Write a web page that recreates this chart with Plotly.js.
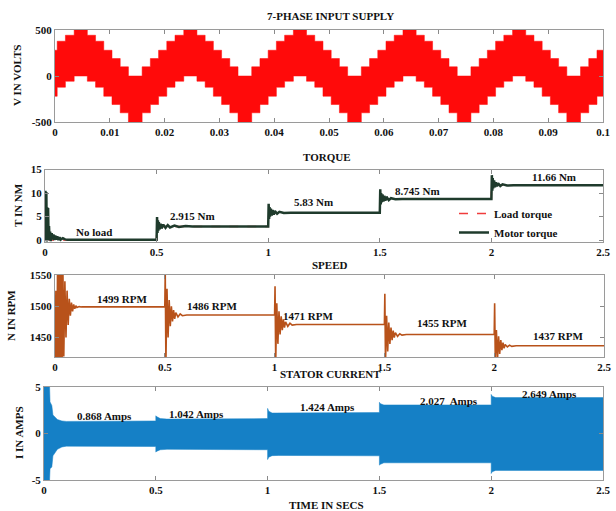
<!DOCTYPE html>
<html>
<head>
<meta charset="utf-8">
<script src="https://cdn.plot.ly/plotly-3.0.1.min.js"></script>
<style>html,body{margin:0;padding:0;background:#fff;}#chart{width:616px;height:511px;}</style>
</head>
<body>
<div id="chart"></div>
<script>
// ---------- DATA ----------
// 7-phase input supply: one cycle of step starts (s) and upper / lower envelope levels (V)
const supplyCycleStart = [0, 0.0004, 0.0019, 0.0035, 0.0059, 0.0074, 0.0089, 0.0104, 0.0119, 0.0134, 0.0159, 0.0174, 0.0189];
const supplyUpper = [280, 378, 443, 500, 443, 378, 280, 190, 100, 0, 100, 190, 280];
const supplyLower = [-220, -122, -57, 0, -57, -122, -220, -310, -400, -500, -400, -310, -220];
const supplyPeriod = 0.02;
const supplyCycles = 5;
const supplyTicks = [0, 0.01, 0.02, 0.03, 0.04, 0.05, 0.06, 0.07, 0.08, 0.09, 0.1];
const supplyTickText = ['0', '0.01', '0.02', '0.03', '0.04', '0.05', '0.06', '0.07', '0.08', '0.09', '0.1'];

// Torque
const loadTorqueT = [0, 0.5, 1, 1.5, 2, 2.5];
const loadTorqueV = [0, 2.915, 5.83, 8.745, 11.66, 11.66];
const motorTorqueT = [0, 0.002, 0.004, 0.006, 0.008, 0.010, 0.012, 0.014, 0.016, 0.018, 0.02, 0.023, 0.026, 0.03, 0.034, 0.038, 0.042, 0.046, 0.05, 0.055, 0.06, 0.065, 0.07, 0.08, 0.09, 0.1,
  0.5, 0.502, 0.504, 0.506, 0.508, 0.51, 0.514, 0.518, 0.522, 0.53, 0.54, 0.55, 0.56, 0.58, 0.6, 0.63, 0.66,
  1.0, 1.002, 1.004, 1.006, 1.008, 1.012, 1.016, 1.02, 1.025, 1.03, 1.04, 1.05, 1.07, 1.1,
  1.5, 1.502, 1.504, 1.506, 1.508, 1.512, 1.516, 1.52, 1.525, 1.53, 1.54, 1.55, 1.57, 1.6,
  2.0, 2.002, 2.004, 2.006, 2.008, 2.012, 2.016, 2.02, 2.025, 2.03, 2.04, 2.05, 2.07, 2.1, 2.5];
const motorTorqueV = [0, 10.5, 0.5, 10.2, -0.3, 7.0, 0.2, 6.8, 0.0, 3.0, 0.5, 1.8, -0.2, 1.5, 0.1, 1.2, 0.0, 1.0, 0.1, 0.8, 0.0, 0.6, 0.1, 0.4, 0.15, 0.08,
  0.08, 4.9, 1.5, 4.2, 2.0, 3.8, 2.3, 3.5, 2.5, 3.3, 2.6, 3.2, 2.7, 3.1, 2.8, 3.0, 2.915,
  2.915, 7.7, 4.5, 7.0, 5.0, 6.7, 5.2, 6.4, 5.4, 6.2, 5.6, 6.0, 5.75, 5.83,
  5.83, 10.8, 7.6, 10.0, 8.0, 9.7, 8.2, 9.4, 8.4, 9.2, 8.5, 8.9, 8.7, 8.745,
  8.745, 13.8, 10.5, 13.2, 11.0, 12.7, 11.2, 12.3, 11.4, 12.1, 11.5, 11.85, 11.6, 11.66, 11.66];
const torqueLabels = ['No load', '2.915 Nm', '5.83 Nm', '8.745 Nm', '11.66 Nm'];
const torqueLabelT = [0.22, 0.66, 1.205, 1.67, 2.28];
const torqueLabelV = [1.8, 5.2, 8.1, 10.5, 13.4];

// Speed
const speedT = [0, 0.004, 0.008, 0.012, 0.016, 0.02, 0.024, 0.028, 0.032, 0.036, 0.04, 0.045, 0.05, 0.055, 0.06, 0.065, 0.07, 0.075, 0.08, 0.085, 0.09, 0.095, 0.1, 0.11, 0.12,
  0.5, 0.502, 0.505, 0.51, 0.515, 0.52, 0.525, 0.53, 0.535, 0.54, 0.545, 0.55, 0.56, 0.57, 0.58, 0.6,
  1.0, 1.002, 1.005, 1.01, 1.015, 1.02, 1.025, 1.03, 1.035, 1.04, 1.045, 1.05, 1.06, 1.07, 1.08, 1.1,
  1.5, 1.502, 1.505, 1.51, 1.515, 1.52, 1.525, 1.53, 1.535, 1.54, 1.545, 1.55, 1.56, 1.57, 1.58, 1.6,
  2.0, 2.002, 2.005, 2.01, 2.015, 2.02, 2.025, 2.03, 2.035, 2.04, 2.045, 2.05, 2.06, 2.07, 2.08, 2.1, 2.5];
const speedV = [1400, 1525, 1400, 1580, 1400, 1580, 1400, 1580, 1400, 1560, 1420, 1540, 1450, 1525, 1470, 1512, 1485, 1506, 1492, 1503, 1496, 1501, 1498, 1499.5, 1499,
  1499, 1555, 1410, 1528, 1450, 1510, 1468, 1500, 1476, 1494, 1480, 1490, 1483, 1488, 1485, 1486,
  1486, 1532, 1410, 1505, 1440, 1492, 1455, 1484, 1462, 1479, 1466, 1475, 1468, 1473, 1470, 1471,
  1471, 1520, 1410, 1485, 1428, 1474, 1440, 1466, 1446, 1461, 1450, 1458, 1452, 1456, 1454, 1455,
  1455, 1505, 1412, 1462, 1415, 1452, 1424, 1446, 1430, 1442, 1433, 1439, 1435, 1438, 1436, 1437, 1437];
const speedLabels = ['1499 RPM', '1486 RPM', '1471 RPM', '1455 RPM', '1437 RPM'];
const speedLabelT = [0.305, 0.714, 1.152, 1.762, 2.29];
const speedLabelV = [1512, 1500, 1484, 1473, 1452];

// Stator current envelope
const currentT = [0, 0.025, 0.027, 0.035, 0.04, 0.05, 0.06, 0.08, 0.1, 0.5, 0.5, 0.505, 0.52, 0.55, 1.0, 1.0, 1.005, 1.02, 1.05, 1.5, 1.5, 1.505, 1.52, 2.0, 2.0, 2.005, 2.02, 2.5];
const currentUpper = [5, 5, 3.4, 3.0, 2.0, 1.7, 1.5, 1.35, 1.3, 1.35, 1.9, 1.8, 1.6, 1.55, 1.6, 2.7, 2.4, 2.2, 2.2, 2.25, 3.35, 3.2, 3.07, 3.07, 4.2, 4.0, 3.86, 3.86];
const currentLower = [-5, -5, -3.8, -3.6, -2.4, -2.0, -1.7, -1.45, -1.36, -1.4, -2.0, -1.9, -1.75, -1.7, -1.75, -2.8, -2.55, -2.38, -2.36, -2.4, -3.4, -3.3, -3.15, -3.15, -4.3, -4.1, -3.97, -3.97];
const currentLabels = ['0.868 Amps', '1.042 Amps', '1.424 Amps', '2.027  Amps', '2.649 Amps'];
const currentLabelT = [0.27, 0.68, 1.27, 1.81, 2.26];
const currentLabelV = [1.85, 2.1, 2.8, 3.5, 4.2];

const timeTicks = [0, 0.5, 1, 1.5, 2, 2.5];
const timeTickText = ['0', '0.5', '1', '1.5', '2', '2.5'];

// ---------- BUILD ----------
const W = 616, H = 511;
const FONT = 'Liberation Serif, Times New Roman, serif';
const px = (a, b) => [a / W, b / W];
const py = (top, bottom) => [(H - bottom) / H, (H - top) / H];

const supX = [], supU = [], supL = [];
for (let c = 0; c < supplyCycles; c++) {
  for (let i = 0; i < supplyCycleStart.length; i++) {
    supX.push(c * supplyPeriod + supplyCycleStart[i]);
    supU.push(supplyUpper[i]);
    supL.push(supplyLower[i]);
  }
}
supX.push(supplyPeriod * supplyCycles);
supU.push(supplyUpper[supplyUpper.length - 1]);
supL.push(supplyLower[supplyLower.length - 1]);

const RED = '#ff0a0a', GREEN = '#1f3b2c', ORANGE = '#b8521a', BLUE = '#1580c6';

const traces = [
  {x: supX, y: supL, xaxis: 'x', yaxis: 'y', mode: 'lines', line: {shape: 'hv', color: RED, width: 0.5}, showlegend: false, hoverinfo: 'skip'},
  {x: supX, y: supU, xaxis: 'x', yaxis: 'y', mode: 'lines', fill: 'tonexty', fillcolor: RED, line: {shape: 'hv', color: RED, width: 0.5}, showlegend: false, hoverinfo: 'skip'},
  {x: loadTorqueT, y: loadTorqueV, xaxis: 'x2', yaxis: 'y2', mode: 'lines', name: 'Load torque', line: {shape: 'hv', color: '#f03c3c', width: 1.5, dash: 'dash'}},
  {x: motorTorqueT, y: motorTorqueV, xaxis: 'x2', yaxis: 'y2', mode: 'lines', name: 'Motor torque', line: {color: GREEN, width: 2.5}},
  {x: speedT, y: speedV, xaxis: 'x3', yaxis: 'y3', mode: 'lines', line: {color: ORANGE, width: 1.6}, showlegend: false},
  {x: currentT, y: currentLower, xaxis: 'x4', yaxis: 'y4', mode: 'lines', line: {color: BLUE, width: 0.5}, showlegend: false},
  {x: currentT, y: currentUpper, xaxis: 'x4', yaxis: 'y4', mode: 'lines', fill: 'tonexty', fillcolor: BLUE, line: {color: BLUE, width: 0.5}, showlegend: false}
];

const tickFont = {family: FONT, size: 11, color: '#111', weight: 'bold'};
function axis(extra) {
  return Object.assign({
    showgrid: false, zeroline: false, showline: true, mirror: 'ticks',
    linecolor: '#9a9a9a', linewidth: 1, ticks: 'inside', ticklen: 4, tickcolor: '#8a8a8a',
    tickfont: tickFont, tickmode: 'array', fixedrange: true
  }, extra);
}

const layout = {
  width: W, height: H,
  margin: {l: 0, r: 0, t: 0, b: 0},
  paper_bgcolor: '#fff', plot_bgcolor: '#fff',
  font: {family: FONT, size: 11, color: '#111'},
  xaxis: axis({domain: px(55, 603), anchor: 'y', range: [0, 0.1], tickvals: supplyTicks, ticktext: supplyTickText}),
  yaxis: axis({domain: py(30, 122), anchor: 'x', range: [-500, 500], tickvals: [-500, 0, 500], ticktext: ['-500', '0', '500']}),
  xaxis2: axis({domain: px(45, 603), anchor: 'y2', range: [0, 2.5], tickvals: timeTicks, ticktext: timeTickText}),
  yaxis2: axis({domain: py(169.5, 242), anchor: 'x2', range: [-0.4, 15], tickvals: [0, 5, 10, 15], ticktext: ['0', '5', '10', '15']}),
  xaxis3: axis({domain: px(55, 604), anchor: 'y3', range: [0, 2.5], tickvals: timeTicks, ticktext: timeTickText}),
  yaxis3: axis({domain: py(275, 357), anchor: 'x3', range: [1419, 1550], tickvals: [1450, 1500, 1550], ticktext: ['1450', '1500', '1550']}),
  xaxis4: axis({domain: px(44, 603), anchor: 'y4', range: [0, 2.5], tickvals: timeTicks, ticktext: timeTickText}),
  yaxis4: axis({domain: py(387, 480), anchor: 'x4', range: [-5, 5], tickvals: [-5, 0, 5], ticktext: ['-5', '0', '5']}),
  showlegend: true,
  legend: {
    x: 454 / W, y: (H - 199) / H, xanchor: 'left', yanchor: 'top',
    bgcolor: 'rgba(0,0,0,0)', borderwidth: 0, traceorder: 'normal',
    font: {family: FONT, size: 11, color: '#111', weight: 'bold'},
    tracegroupgap: 0, itemwidth: 30
  },
  annotations: []
};

function paperText(text, xPix, yPix, opts) {
  return Object.assign({
    text: text, xref: 'paper', yref: 'paper', x: xPix / W, y: (H - yPix) / H,
    xanchor: 'center', yanchor: 'middle', showarrow: false,
    font: {family: FONT, size: 11, color: '#111', weight: 'bold'}
  }, opts || {});
}
const ann = layout.annotations;
ann.push(paperText('7-PHASE INPUT SUPPLY', 330, 16));
ann.push(paperText('TORQUE', 326, 157));
ann.push(paperText('SPEED', 330, 265));
ann.push(paperText('STATOR CURRENT', 330, 374));
ann.push(paperText('TIME IN SECS', 326, 505));
ann.push(paperText('V IN VOLTS', 17, 76, {textangle: -90}));
ann.push(paperText('T IN NM', 18, 205, {textangle: -90}));
ann.push(paperText('N IN RPM', 11, 316, {textangle: -90}));
ann.push(paperText('I IN AMPS', 19, 433, {textangle: -90}));

function dataLabels(texts, xs, ys, xr, yr) {
  for (let i = 0; i < texts.length; i++) {
    ann.push({text: texts[i], x: xs[i], y: ys[i], xref: xr, yref: yr, showarrow: false,
      xanchor: 'center', yanchor: 'middle',
      font: {family: FONT, size: 11, color: '#111', weight: 'bold'}});
  }
}
dataLabels(torqueLabels, torqueLabelT, torqueLabelV, 'x2', 'y2');
dataLabels(speedLabels, speedLabelT, speedLabelV, 'x3', 'y3');
dataLabels(currentLabels, currentLabelT, currentLabelV, 'x4', 'y4');

Plotly.newPlot('chart', traces, layout, {staticPlot: true, displayModeBar: false});
</script>
</body>
</html>
